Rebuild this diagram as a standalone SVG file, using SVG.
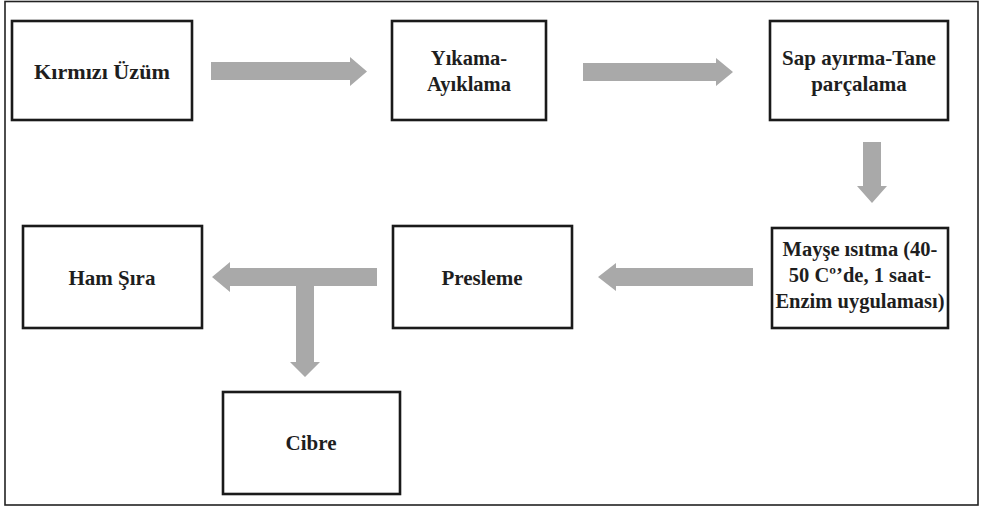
<svg xmlns="http://www.w3.org/2000/svg" width="982" height="508" viewBox="0 0 982 508">
<style>
.box{fill:#fff;stroke:#1a1a1a;stroke-width:2.6}
.t{font-family:'Liberation Serif','DejaVu Serif',serif;font-weight:700;font-size:21px;fill:#1e1e1e;text-anchor:middle}
.s{font-size:20.5px}
.arr{fill:#a9a9a9}
</style>
<rect x="0" y="0" width="982" height="508" fill="#fff"/>
<rect x="5" y="1.5" width="973" height="503.5" fill="none" stroke="#222" stroke-width="1.6"/>
<g id="connectors">
<polygon class="arr" points="211,62 350,62 350,57 367,71.5 350,86 350,80 211,80"/>
<polygon class="arr" points="583,63 716,63 716,58 733,72 716,86 716,81 583,81"/>
<polygon class="arr" points="863,142 881,142 881,186 887,186 872,203 857,186 863,186"/>
<polygon class="arr" points="753,268 753,286 616,286 616,291 598,277 616,263 616,268"/>
<polygon class="arr" points="377,268 377,286 314,286 314,362 320,362 305,377 290,362 296,362 296,286 230,286 230,292 212,277 230,262 230,268"/>
</g>
<g id="n1"><rect class="box" x="12" y="21" width="180" height="99"/><text class="t" x="102" y="79" textLength="136" lengthAdjust="spacingAndGlyphs">Kırmızı Üzüm</text></g>
<g id="n2"><rect class="box" x="392" y="21" width="154" height="99"/><text class="t s" x="469" y="65">Yıkama-</text><text class="t s" x="469" y="91">Ayıklama</text></g>
<g id="n3"><rect class="box" x="770" y="21" width="178" height="99"/><text class="t" x="859" y="65">Sap ayırma-Tane</text><text class="t" x="859" y="91">parçalama</text></g>
<g id="n4"><rect class="box" x="772" y="228" width="176" height="100"/><text class="t s" x="860" y="256">Mayşe ısıtma (40-</text><text class="t s" x="860" y="282">50 Cº’de, 1 saat-</text><text class="t s" x="860" y="308">Enzim uygulaması)</text></g>
<g id="n5"><rect class="box" x="393" y="226" width="179" height="102"/><text class="t" x="482" y="285">Presleme</text></g>
<g id="n6"><rect class="box" x="23" y="226" width="179" height="102"/><text class="t" x="112" y="285">Ham Şıra</text></g>
<g id="n7"><rect class="box" x="223" y="392" width="177" height="102"/><text class="t" x="311" y="450">Cibre</text></g>
</svg>
